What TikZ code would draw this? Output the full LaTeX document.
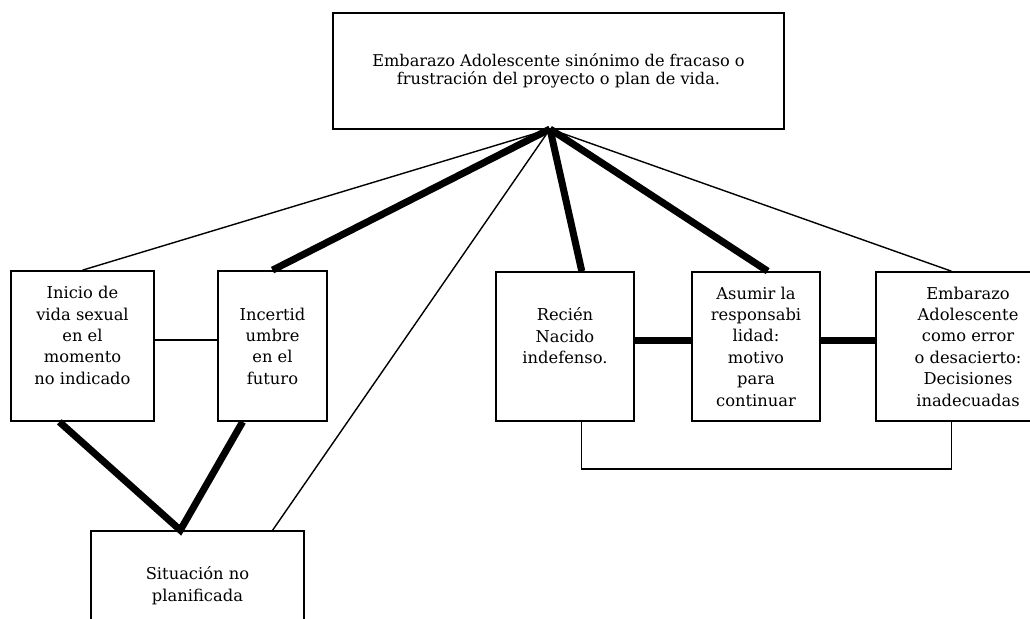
\documentclass[tikz,border=0pt]{standalone}
\usepackage{fontspec}
\setmainfont{DejaVu Serif}
\usetikzlibrary{calc}

\begin{document}
\begin{tikzpicture}[x=0.025cm, y=-0.025cm, line width=1pt]
    \tikzstyle{caja}=[draw, line width=1.2pt, rectangle, inner sep=0pt, align=center, font=\fontsize{11.6}{15.2}\selectfont]
    \tikzstyle{gr}=[line width=5pt]
    \clip (0,0) rectangle (1030,618);
    \node[caja, minimum width=11.275cm, minimum height=2.9cm, font=\fontsize{11.5}{12.5}\selectfont] (tema) at (558.5,71)
        {Embarazo Adolescente sinónimo de fracaso o\\frustración del proyecto o plan de vida.};
    \node[caja, minimum width=3.575cm, minimum height=3.75cm] (inicio) at (82.5,346)
        {Inicio de\\vida sexual\\en el\\momento\\no indicado\\~};
    \node[caja, minimum width=2.725cm, minimum height=3.75cm] (incert) at (272.5,346)
        {Incertid\\umbre\\en el\\futuro};
    \node[caja, minimum width=5.325cm, minimum height=2.725cm] (situacion) at (197.5,585.5)
        {Situación no\\planificada};
    \node[caja, minimum width=3.45cm, minimum height=3.725cm] (recien) at (565,346.5)
        {Recién\\Nacido\\indefenso.\\~};
    \node[caja, minimum width=3.2cm, minimum height=3.725cm] (asumir) at (756,346.5)
        {Asumir la\\responsabi\\lidad:\\motivo\\para\\continuar};
    \node[caja, minimum width=4.6cm, minimum height=3.725cm] (error) at (968,346.5)
        {Embarazo\\Adolescente\\como error\\o desacierto:\\Decisiones\\inadecuadas};
    \coordinate (hub) at (550,129);

    % desde el tema central
    \draw (hub) -- (inicio.north);
    \draw[gr] (hub) -- (incert.north);
    \draw (hub) -- ($(situacion.north west)!.85!(situacion.north east)$);
    \draw[gr] (hub) -- ($(recien.north west)!.62!(recien.north east)$);
    \draw[gr] (hub) -- ($(asumir.north west)!.59!(asumir.north east)$);
    \draw (hub) -- ($(error.north west)!.41!(error.north east)$);

    % lado izquierdo
    \draw ([yshift=0.15cm]inicio.east) -- ([yshift=0.15cm]incert.west);
    \draw[gr] ($(inicio.south west)!.34!(inicio.south east)$) -- ($(situacion.north west)!.42!(situacion.north east)$)
        -- ($(incert.south west)!.23!(incert.south east)$);

    % lado derecho
    \draw[gr] ([yshift=0.15cm]recien.east) -- ([yshift=0.15cm]asumir.west);
    \draw[gr] ([yshift=0.15cm]asumir.east) -- ([yshift=0.15cm]error.west);
    \draw ($(recien.south west)!.62!(recien.south east)$) -- ++(0,47) -| ($(error.south west)!.41!(error.south east)$);
\end{tikzpicture}
\end{document}
